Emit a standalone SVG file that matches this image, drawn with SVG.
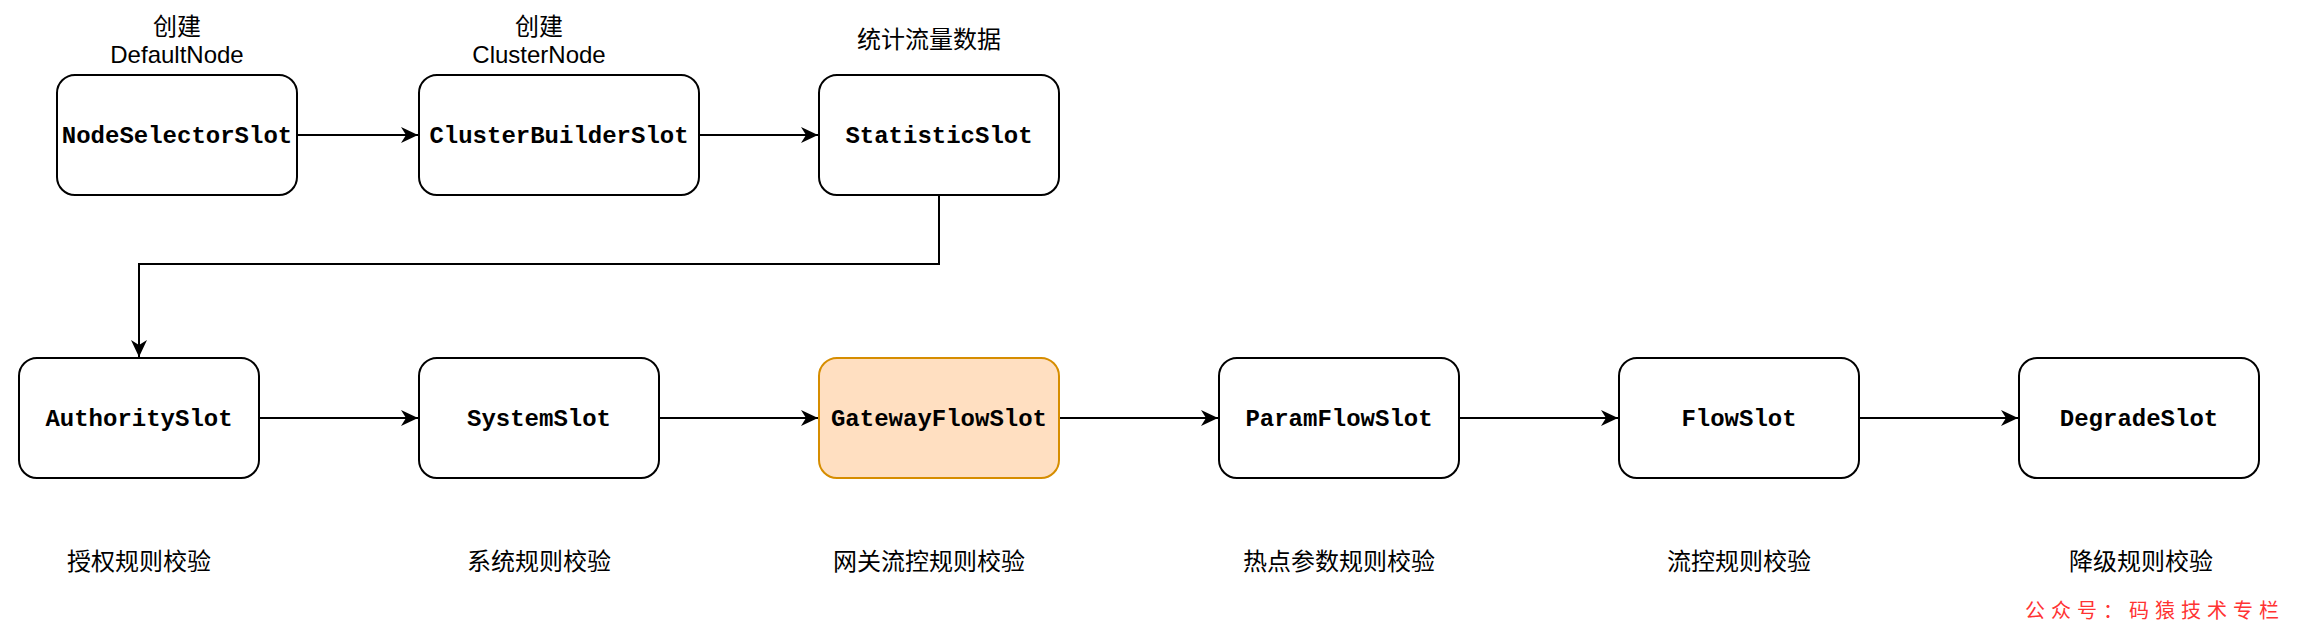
<svg xmlns="http://www.w3.org/2000/svg" width="2312" height="638" viewBox="0 0 2312 638">
<style>
.box{fill:#ffffff;stroke:#000000;stroke-width:2}
.hl{fill:#ffdfc1;stroke:#d68d00;stroke-width:2}
.mono{font-family:"Liberation Mono","Courier New",monospace;font-weight:bold;font-size:24px;fill:#000;text-anchor:middle}
.lbl{font-family:"Liberation Sans","Noto Sans CJK SC",sans-serif;font-size:24px;fill:#000;text-anchor:middle}
.cn{font-family:"Noto Sans CJK SC",sans-serif;font-size:23px;fill:#000;text-anchor:middle}
.edge{fill:none;stroke:#000;stroke-width:2}
.wm{font-family:"Noto Sans CJK SC",sans-serif;font-size:20px;fill:#ff3333;letter-spacing:6px}
</style>
<defs>
<marker id="arr" markerUnits="userSpaceOnUse" markerWidth="20" markerHeight="18" viewBox="-18 -9 20 18" refX="0" refY="0" orient="auto">
<path d="M0,0 L-17,-8 L-12,0 L-17,8 Z" fill="#000"/>
</marker>
</defs>
<rect width="2312" height="638" fill="#ffffff"/>
<g id="connectors">
<path class="edge" d="M297,135 L418,135" marker-end="url(#arr)"/>
<path class="edge" d="M699,135 L818,135" marker-end="url(#arr)"/>
<path class="edge" d="M939,195 L939,264 L139,264 L139,357" marker-end="url(#arr)"/>
<path class="edge" d="M259,418 L418,418" marker-end="url(#arr)"/>
<path class="edge" d="M659,418 L818,418" marker-end="url(#arr)"/>
<path class="edge" d="M1059,418 L1218,418" marker-end="url(#arr)"/>
<path class="edge" d="M1459,418 L1618,418" marker-end="url(#arr)"/>
<path class="edge" d="M1859,418 L2018,418" marker-end="url(#arr)"/>
</g>
<g id="NodeSelectorSlot">
<rect class="box" x="57" y="75" width="240" height="120" rx="18"/>
<text class="mono" x="177" y="143">NodeSelectorSlot</text>
<text class="lbl" x="177" y="35">创建</text>
<text class="lbl" x="177" y="63">DefaultNode</text>
</g>
<g id="ClusterBuilderSlot">
<rect class="box" x="419" y="75" width="280" height="120" rx="18"/>
<text class="mono" x="559" y="143">ClusterBuilderSlot</text>
<text class="lbl" x="539" y="35">创建</text>
<text class="lbl" x="539" y="63">ClusterNode</text>
</g>
<g id="StatisticSlot">
<rect class="box" x="819" y="75" width="240" height="120" rx="18"/>
<text class="mono" x="939" y="143">StatisticSlot</text>
<text class="lbl" x="929" y="48">统计流量数据</text>
</g>
<g id="AuthoritySlot">
<rect class="box" x="19" y="358" width="240" height="120" rx="18"/>
<text class="mono" x="139" y="426">AuthoritySlot</text>
<text class="lbl" x="139" y="570">授权规则校验</text>
</g>
<g id="SystemSlot">
<rect class="box" x="419" y="358" width="240" height="120" rx="18"/>
<text class="mono" x="539" y="426">SystemSlot</text>
<text class="lbl" x="539" y="570">系统规则校验</text>
</g>
<g id="GatewayFlowSlot">
<rect class="hl" x="819" y="358" width="240" height="120" rx="18"/>
<text class="mono" x="939" y="426">GatewayFlowSlot</text>
<text class="lbl" x="929" y="570">网关流控规则校验</text>
</g>
<g id="ParamFlowSlot">
<rect class="box" x="1219" y="358" width="240" height="120" rx="18"/>
<text class="mono" x="1339" y="426">ParamFlowSlot</text>
<text class="lbl" x="1339" y="570">热点参数规则校验</text>
</g>
<g id="FlowSlot">
<rect class="box" x="1619" y="358" width="240" height="120" rx="18"/>
<text class="mono" x="1739" y="426">FlowSlot</text>
<text class="lbl" x="1739" y="570">流控规则校验</text>
</g>
<g id="DegradeSlot">
<rect class="box" x="2019" y="358" width="240" height="120" rx="18"/>
<text class="mono" x="2139" y="426">DegradeSlot</text>
<text class="lbl" x="2141" y="570">降级规则校验</text>
</g>
<text class="wm" x="2025" y="618">公众号：码猿技术专栏</text>
</svg>
